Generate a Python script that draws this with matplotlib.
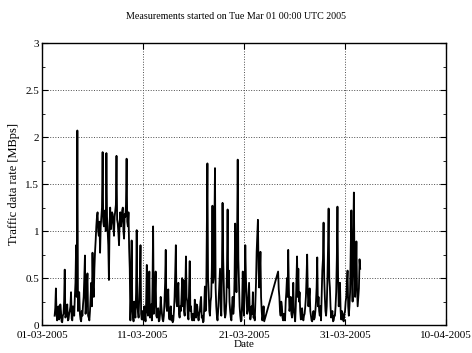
import numpy as np
import matplotlib
matplotlib.use("Agg")
import matplotlib.pyplot as plt
import matplotlib.dates as mdates

plt.rcParams['font.family'] = ['Liberation Serif', 'DejaVu Serif']

# samples every 1.5 hours, values in MBps
step_days = 0.0625
start_early = 1.25    # days after Mar 01 00:00
start_late = 23.375

rate_week1 = [0.10, 0.18, 0.39, 0.12, 0.05, 0.14, 0.20, 0.06, 0.08, 0.22, 0.15,
              0.04, 0.03, 0.10, 0.12, 0.25, 0.59, 0.08, 0.10, 0.16, 0.22, 0.05,
              0.06, 0.12, 0.15, 0.20, 0.35, 0.07, 0.05, 0.20, 0.18, 0.10, 0.30,
              0.45, 0.85, 0.30, 2.07, 0.15, 0.25, 0.35, 0.12, 0.06, 0.04, 0.15,
              0.10, 0.22, 0.30, 0.50, 0.74, 0.12, 0.20, 0.40, 0.55, 0.10, 0.08,
              0.05, 0.15, 0.30, 0.45, 0.20, 0.77, 0.40, 0.30, 0.60, 0.78, 0.90]
rate_block = [1.05, 1.15, 1.20, 1.00, 0.95, 1.10, 0.77, 1.05, 1.15, 1.25,
              1.84, 1.10, 1.05, 1.20, 1.22, 1.00, 1.83, 1.15, 1.00, 0.85,
              0.48, 1.05, 1.25, 1.02, 1.10, 1.20, 1.18, 1.05, 0.95, 1.15,
              1.22, 1.28, 1.80, 1.12, 1.08, 0.98, 0.85, 1.10, 1.20, 1.05,
              1.12, 1.22, 1.25, 1.00, 0.92, 1.18, 1.15, 1.28, 1.77, 1.10,
              1.05, 1.20, 0.82, 0.60]
rate_mid = [0.05, 0.30, 0.90, 0.20,
            0.10, 0.04, 0.25, 0.12, 0.08, 0.35, 1.01, 0.20, 0.15, 0.08, 0.30, 0.50, 0.85, 0.12, 0.06, 0.15,
            0.12, 0.05, 0.20, 0.10, 0.04, 0.25, 0.64, 0.15, 0.10, 0.30, 0.57, 0.08, 0.15, 0.22, 0.05, 0.40,
            1.05, 0.12, 0.20, 0.35, 0.57, 0.10, 0.08, 0.15, 0.18, 0.04, 0.05, 0.12, 0.30, 0.20, 0.12, 0.06,
            0.04, 0.10, 0.25, 0.45, 0.80, 0.20, 0.15, 0.28, 0.38, 0.10, 0.06, 0.15, 0.20, 0.05, 0.10, 0.03,
            0.05, 0.15, 0.30, 0.55, 0.85, 0.25, 0.20, 0.35, 0.45, 0.12, 0.08, 0.20, 0.15, 0.30, 0.50, 0.20,
            0.48, 0.15, 0.10, 0.35, 0.73, 0.30, 0.25, 0.10, 0.06, 0.40, 0.68, 0.15, 0.20, 0.08, 0.05, 0.12,
            0.12, 0.05, 0.27, 0.15, 0.08, 0.22, 0.20, 0.10, 0.05, 0.12, 0.15, 0.25, 0.30, 0.08, 0.10, 0.03,
            0.04, 0.20, 0.41, 0.15, 0.20, 0.90, 1.72, 0.50, 0.35, 0.15, 0.10, 0.25, 0.30, 0.60, 1.27, 0.45,
            0.50, 1.00, 1.67, 0.40, 0.20, 0.10, 0.05, 0.15, 0.30, 0.45, 0.60, 0.20, 0.10, 0.55, 1.30, 0.70,
            0.40, 0.15, 0.08, 0.12, 0.25, 0.60, 1.23, 0.40, 0.58, 0.25, 0.15, 0.08, 0.05, 0.20, 0.30, 0.12,
            0.20, 0.50, 1.08, 0.60, 0.35, 0.90, 1.76, 0.70, 0.45, 0.20, 0.10, 0.04, 0.05, 0.25, 0.57, 0.20,
            0.10, 0.40, 0.85, 0.50, 0.30, 0.12, 0.15, 0.30, 0.45, 0.15, 0.06, 0.10, 0.20, 0.12, 0.35, 0.08,
            0.10, 0.05, 0.25, 0.45, 0.78, 0.95, 1.12, 0.60, 0.40, 0.55, 0.78, 0.30, 0.15, 0.05, 0.10, 0.20,
            0.04]
rate_late = [0.57, 0.38, 0.30, 0.15, 0.10, 0.25, 0.20, 0.08, 0.05, 0.12,
             0.12, 0.05, 0.25, 0.35, 0.50, 0.30, 0.80, 0.40, 0.15, 0.20, 0.30, 0.12, 0.08, 0.20, 0.45, 0.15,
             0.10, 0.04, 0.20, 0.45, 0.73, 0.30, 0.60, 0.25, 0.35, 0.15, 0.06, 0.12, 0.18, 0.08, 0.05, 0.10,
             0.12, 0.20, 0.30, 0.50, 0.75, 0.35, 0.20, 0.30, 0.39, 0.15, 0.10, 0.05, 0.04, 0.10, 0.15, 0.06,
             0.08, 0.15, 0.25, 0.40, 0.72, 0.20, 0.30, 0.15, 0.10, 0.20, 0.05, 0.30, 0.58, 0.70, 1.09, 0.50,
             0.30, 0.15, 0.10, 0.20, 0.45, 0.80, 1.24, 0.50, 0.40, 0.20, 0.08, 0.12, 0.15, 0.04, 0.05, 0.10,
             0.10, 0.20, 0.35, 0.70, 1.26, 0.50, 0.20, 0.30, 0.45, 0.15, 0.06, 0.15, 0.12, 0.05, 0.04, 0.12,
             0.15, 0.25, 0.30, 0.45, 0.58, 0.20, 0.10, 0.20, 0.35, 0.80, 1.22, 0.50, 0.25, 0.90, 1.41, 0.60,
             0.30, 0.55, 0.89, 0.40, 0.20, 0.30, 0.39, 0.70, 0.60]

t0 = np.datetime64('2005-03-01T00:00')
early = rate_week1 + rate_block + rate_mid
d_early = start_early + step_days * np.arange(len(early))
d_late = start_late + step_days * np.arange(len(rate_late))
days = np.concatenate([d_early, d_late])
rate = np.array(early + rate_late)
times = t0 + np.round(days * 24 * 60).astype(int).astype('timedelta64[m]')

fig = plt.figure(figsize=(4.72, 3.53), dpi=100)
ax = fig.add_axes([0.089, 0.079, 0.856, 0.799])
ax.plot(times, rate, c='k', lw=1.3)

ax.set_xlim(np.datetime64('2005-03-01'), np.datetime64('2005-04-10'))
ax.set_ylim(0, 3)
ax.set_xticks([np.datetime64('2005-03-01'), np.datetime64('2005-03-11'),
               np.datetime64('2005-03-21'), np.datetime64('2005-03-31'),
               np.datetime64('2005-04-10')])
ax.xaxis.set_major_formatter(mdates.DateFormatter('%d-%m-%Y'))
ax.set_yticks(np.arange(0, 3.01, 0.5))
ax.set_yticklabels(['0', '0.5', '1', '1.5', '2', '2.5', '3'])
ax.set_yticks(np.arange(0, 3.01, 0.25), minor=True)
ax.tick_params(direction='in', top=True, right=True, labelsize=8, length=4, pad=2)
ax.tick_params(axis='x', pad=4.5)
ax.tick_params(which='minor', direction='in', right=True, length=2)
ax.grid(True, linestyle=':', color='0.3', lw=0.7)
for s in ax.spines.values():
    s.set_linewidth(1.0)

ax.set_xlabel('Date', fontsize=8, labelpad=0)
ax.set_ylabel('Traffic data rate [MBps]', fontsize=9, labelpad=4)
fig.suptitle('Measurements started on Tue Mar 01 00:00 UTC 2005', fontsize=7.2, y=0.965)

fig.savefig('out.png', dpi=100)
